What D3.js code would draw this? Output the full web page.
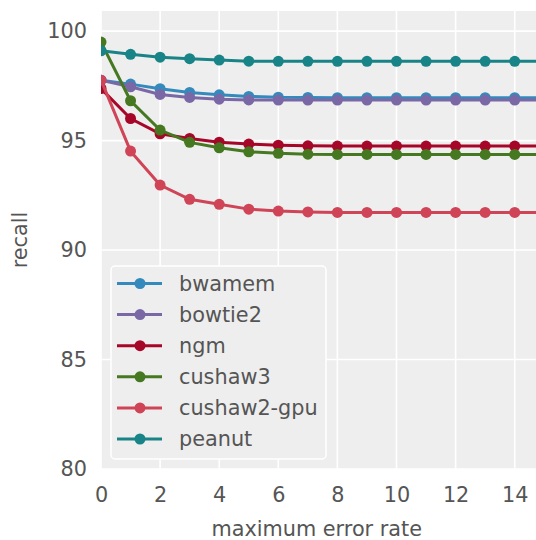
<!DOCTYPE html>
<html>
<head>
<meta charset="utf-8">
<script src="https://cdn.jsdelivr.net/npm/d3@7"></script>
<style>
  body { margin: 0; background: #fff; }
  svg { display: block; font-family: "DejaVu Sans", sans-serif; }
</style>
</head>
<body>
<div id="chart"></div>
<script>
// error rates on the x axis (the last one lies past the visible edge)
var errorRates = [0, 1, 2, 3, 4, 5, 6, 7, 8, 9, 10, 11, 12, 13, 14, 15];

var names = ["bwamem", "bowtie2", "ngm", "cushaw3", "cushaw2-gpu", "peanut"];
var colors = ["#348ABD", "#7A68A6", "#A60628", "#467821", "#CF4457", "#188487"];

var bwamem = [97.76, 97.58, 97.37, 97.2, 97.09, 97.02, 96.98, 96.97, 96.96, 96.96, 96.96, 96.96, 96.96, 96.96, 96.96, 96.96];
var bowtie2 = [97.76, 97.46, 97.11, 96.97, 96.89, 96.86, 96.85, 96.85, 96.85, 96.85, 96.85, 96.85, 96.85, 96.85, 96.85, 96.85];
var ngm = [97.38, 96.01, 95.31, 95.1, 94.93, 94.84, 94.79, 94.76, 94.75, 94.75, 94.75, 94.75, 94.75, 94.75, 94.75, 94.75];
var cushaw3 = [99.5, 96.82, 95.48, 94.92, 94.67, 94.49, 94.42, 94.38, 94.37, 94.37, 94.37, 94.37, 94.37, 94.37, 94.37, 94.37];
var cushaw2gpu = [97.76, 94.52, 92.97, 92.32, 92.09, 91.87, 91.78, 91.74, 91.72, 91.72, 91.72, 91.72, 91.72, 91.72, 91.72, 91.72];
var peanut = [99.1, 98.94, 98.81, 98.74, 98.68, 98.63, 98.62, 98.62, 98.62, 98.62, 98.62, 98.62, 98.62, 98.62, 98.62, 98.62];

var xTicks = [0, 2, 4, 6, 8, 10, 12, 14];
var yTicks = [80, 85, 90, 95, 100];

var series = [bwamem, bowtie2, ngm, cushaw3, cushaw2gpu, peanut];

var width = 536, height = 540;
var margin = {t: 11, r: 0, b: 71, l: 101};
var fs = 20.8;

var svg = d3.select("#chart").append("svg")
    .attr("width", width)
    .attr("height", height);

var x = d3.scaleLinear().domain([0, 14.72]).range([margin.l, width - margin.r]);
var y = d3.scaleLinear().domain([80, 100.92]).range([height - margin.b, margin.t]);

var plotW = width - margin.l - margin.r;
var plotH = height - margin.t - margin.b;

svg.append("clipPath").attr("id", "clip")
  .append("rect")
    .attr("x", margin.l).attr("y", margin.t)
    .attr("width", plotW).attr("height", plotH);

svg.append("rect")
    .attr("x", margin.l).attr("y", margin.t)
    .attr("width", plotW).attr("height", plotH)
    .attr("fill", "#eeeeee");

// grid
var grid = svg.append("g").attr("stroke", "#fff").attr("stroke-width", 1.6);
grid.selectAll(".gx").data(xTicks).enter().append("line")
    .attr("x1", function(d) { return x(d); })
    .attr("x2", function(d) { return x(d); })
    .attr("y1", margin.t).attr("y2", height - margin.b);
grid.selectAll(".gy").data(yTicks).enter().append("line")
    .attr("y1", function(d) { return y(d); })
    .attr("y2", function(d) { return y(d); })
    .attr("x1", margin.l).attr("x2", width - margin.r);

// axes, text only
var xAxis = svg.append("g")
    .attr("transform", "translate(0," + (height - margin.b) + ")")
    .call(d3.axisBottom(x).tickValues(xTicks).tickSize(0).tickPadding(18));
var yAxis = svg.append("g")
    .attr("transform", "translate(" + margin.l + ",0)")
    .call(d3.axisLeft(y).tickValues(yTicks).tickSize(0).tickPadding(14));
[xAxis, yAxis].forEach(function(a) {
  a.select(".domain").remove();
  a.selectAll("text").attr("font-size", fs).attr("fill", "#555")
    .attr("font-family", "DejaVu Sans, sans-serif");
});

svg.append("text")
    .attr("x", x(7.3)).attr("y", 536)
    .attr("text-anchor", "middle")
    .attr("font-size", fs).attr("fill", "#555")
    .text("maximum error rate");

svg.append("text")
    .attr("transform", "translate(27," + (margin.t + plotH / 2) + ") rotate(-90)")
    .attr("text-anchor", "middle")
    .attr("font-size", fs).attr("fill", "#555")
    .text("recall");

// lines + markers
var line = d3.line()
    .x(function(d, i) { return x(errorRates[i]); })
    .y(function(d) { return y(d); });

var plot = svg.append("g").attr("clip-path", "url(#clip)");
series.forEach(function(s, k) {
  var g = plot.append("g");
  g.append("path")
      .attr("d", line(s))
      .attr("fill", "none")
      .attr("stroke", colors[k])
      .attr("stroke-width", 3);
  g.selectAll("circle").data(s).enter().append("circle")
      .attr("cx", function(d, i) { return x(errorRates[i]); })
      .attr("cy", function(d) { return y(d); })
      .attr("r", 5.5)
      .attr("fill", colors[k]);
});

// legend
var legend = svg.append("g").attr("transform", "translate(111,266)");
legend.append("rect")
    .attr("width", 215).attr("height", 193)
    .attr("rx", 4)
    .attr("fill", "#eeeeee")
    .attr("stroke", "#fff").attr("stroke-width", 1.5);
var items = legend.selectAll(".item").data(names).enter().append("g")
    .attr("transform", function(d, i) { return "translate(0," + (17.5 + i * 31.1) + ")"; });
items.append("line")
    .attr("x1", 6).attr("x2", 51)
    .attr("stroke", function(d, i) { return colors[i]; })
    .attr("stroke-width", 3);
items.append("circle")
    .attr("cx", 29).attr("r", 5.5)
    .attr("fill", function(d, i) { return colors[i]; });
items.append("text")
    .attr("x", 68).attr("dy", "0.35em")
    .attr("font-size", fs).attr("fill", "#555")
    .text(function(d) { return d; });
</script>
</body>
</html>
